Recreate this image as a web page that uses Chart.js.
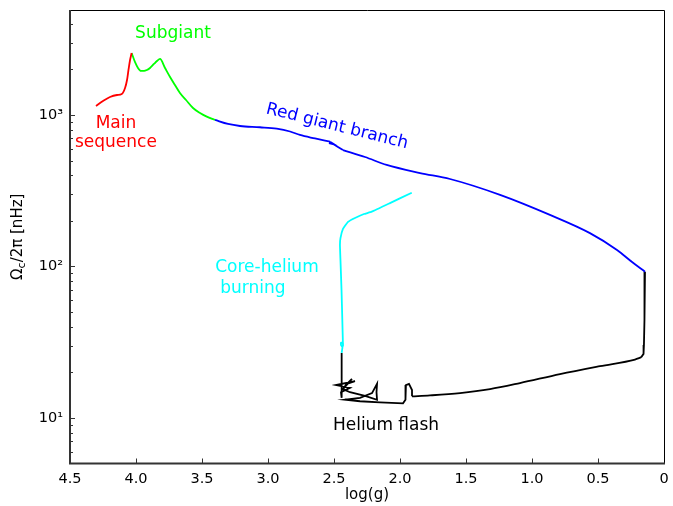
<!DOCTYPE html>
<html>
<head>
<meta charset="utf-8">
<script src="https://cdn.jsdelivr.net/npm/chart.js@4.4.0/dist/chart.umd.min.js"></script>
<style>
    body { margin: 0; background: #fff; }
    #wrap { width: 673px; height: 506px; }
</style>
</head>
<body>
<div id="wrap"><canvas id="rotationChart" width="673" height="506"></canvas></div>
<script>
// Core rotation rate vs log(g) along the evolution track
const msLogg = [4.303, 4.250, 4.197, 4.144, 4.108, 4.083, 4.068, 4.057, 4.045, 4.033];
const msOmega = [1147, 1237, 1315, 1355, 1376, 1508, 1702, 1982, 2307, 2566];

const sgLogg = [4.033, 4.008, 3.985, 3.962, 3.939, 3.917, 3.894, 3.864, 3.841, 3.818, 3.780, 3.742, 3.705, 3.667, 3.621, 3.568, 3.515, 3.464, 3.402];
const sgOmega = [2566, 2238, 2043, 1952, 1952, 1982, 2043, 2171, 2272, 2343, 2043, 1781, 1578, 1397, 1256, 1112, 1031, 975, 927];

// red giant branch: before the small hook, the hook itself, and after it
const rgbLoggA = [3.402, 3.303, 3.212, 3.061, 2.934, 2.833, 2.758, 2.644, 2.530];
const rgbOmegaA = [927, 872, 846, 830, 812, 778, 738, 700, 666];
const hookLogg = [2.530, 2.508, 2.538, 2.500, 2.470, 2.432];
const hookOmega = [666, 648, 653, 639, 615, 587];
const rgbLoggB = [2.432, 2.265, 2.101, 1.848, 1.621, 1.242, 0.864, 0.561, 0.356, 0.242, 0.144];
const rgbOmegaB = [587, 528, 468, 414, 378, 297, 219, 166, 128.5, 107, 92.4];

// helium flash: drop at the tip, the long return, then the sub-flash loops
const tipLogg = [0.144, 0.148, 0.148, 0.152, 0.155, 0.174];
const tipOmega = [92.4, 70.0, 44.4, 30.3, 26.5, 25.1];
const returnLogg = [0.174, 0.220, 0.485, 0.788, 1.091, 1.318, 1.545, 1.773, 1.909];
const returnOmega = [25.1, 24.3, 22.0, 19.5, 17.0, 15.5, 14.6, 14.1, 13.9];
const loopLogg = [1.909, 1.909, 1.932, 1.955, 1.962, 1.955, 1.977, 2.152, 2.303, 2.417,
    2.303, 2.212, 2.174, 2.178, 2.174, 2.265, 2.379, 2.432,
    2.364, 2.402, 2.341, 2.485, 2.379, 2.447, 2.442, 2.442, 2.442, 2.442];
const loopOmega = [13.9, 15.3, 16.8, 16.5, 14.8, 13.2, 12.5, 12.7, 12.9, 13.2,
    13.6, 14.6, 16.8, 14.8, 13.2, 14.0, 14.8, 15.5,
    18.1, 16.8, 17.5, 16.5, 15.8, 14.8, 13.6, 17.8, 22.4, 26.9];

const heLogg = [2.442, 2.436, 2.447, 2.447, 2.432, 2.432, 2.437, 2.443, 2.451, 2.455, 2.451, 2.432, 2.394, 2.341, 2.273, 2.214, 2.076, 1.911];
const heOmega = [26.9, 29.4, 30.3, 31.5, 31.3, 29.9, 44.4, 70.0, 110, 139, 154, 177, 197, 209, 222, 230, 262, 307];

const xTicks = [0, 0.5, 1, 1.5, 2, 2.5, 3, 3.5, 4, 4.5];
const yMajor = [10, 100, 1000];
const yMinor = [6, 7, 8, 9, 20, 30, 40, 50, 60, 70, 80, 90, 200, 300, 400, 500, 600, 700, 800, 900, 2000, 3000, 4000];

// text labels: [text, logg, omega, colour, rotation deg]
const notes = [
    ['Subgiant', 3.72, 3425, '#00ff00', 0],
    ['Main', 4.152, 872, '#ff0000', 0],
    ['sequence', 4.152, 653, '#ff0000', 0],
    ['Red giant branch', 2.477, 840, '#0000ff', 14],
    ['Core-helium', 3.008, 97.7, '#00ffff', 0],
    ['burning', 3.114, 71.0, '#00ffff', 0],
    ['Helium flash', 2.106, 8.85, '#000000', 0]
];

const FONT = "'DejaVu Sans', sans-serif";
Chart.defaults.font.family = FONT;
Chart.defaults.color = '#000';

function pts(xs, ys) {
    return xs.map((x, i) => ({ x: x, y: ys[i] }));
}

function track(label, xs, ys, colour, smooth) {
    const ds = {
        label: label,
        data: pts(xs, ys),
        showLine: true,
        borderColor: colour,
        backgroundColor: colour,
        borderWidth: 1.8,
        pointRadius: 0,
        tension: 0
    };
    if (smooth === 'mono') {
        ds.cubicInterpolationMode = 'monotone';
        ds.tension = 0.4;
    } else if (smooth) {
        ds.tension = smooth;
    }
    return ds;
}

const decor = {
    id: 'decor',
    afterDraw(chart) {
        const c = chart.ctx;
        const a = chart.chartArea;
        const xs = chart.scales.x;
        const ys = chart.scales.y;
        c.save();

        // inward ticks
        c.strokeStyle = '#333';
        c.lineWidth = 1;
        c.beginPath();
        xTicks.forEach(v => {
            const px = Math.round(xs.getPixelForValue(v)) + 0.5;
            c.moveTo(px, a.bottom);
            c.lineTo(px, a.bottom - 5);
        });
        yMajor.forEach(v => {
            const py = Math.round(ys.getPixelForValue(v)) + 0.5;
            c.moveTo(a.left, py);
            c.lineTo(a.left + 5, py);
        });
        yMinor.forEach(v => {
            const py = Math.round(ys.getPixelForValue(v)) + 0.5;
            c.moveTo(a.left, py);
            c.lineTo(a.left + 3, py);
        });
        c.stroke();

        // frame: top/right thin black, left/bottom heavier grey
        c.strokeStyle = '#000';
        c.lineWidth = 1;
        c.beginPath();
        c.moveTo(a.left, a.top + 0.5);
        c.lineTo(a.right + 0.5, a.top + 0.5);
        c.lineTo(a.right + 0.5, a.bottom);
        c.stroke();
        c.strokeStyle = '#333';
        c.lineWidth = 2;
        c.beginPath();
        c.moveTo(a.left, a.top);
        c.lineTo(a.left, a.bottom);
        c.lineTo(a.right + 1, a.bottom);
        c.stroke();

        // annotations
        c.font = '17px ' + FONT;
        c.textAlign = 'center';
        c.textBaseline = 'middle';
        notes.forEach(n => {
            c.save();
            c.translate(xs.getPixelForValue(n[1]), ys.getPixelForValue(n[2]));
            c.rotate(n[4] * Math.PI / 180);
            c.fillStyle = n[3];
            c.fillText(n[0], 0, 0);
            c.restore();
        });

        // axis titles
        c.fillStyle = '#000';
        c.font = '15px ' + FONT;
        c.fillText('log(g)', (a.left + a.right) / 2, 495);

        c.save();
        c.translate(18, (a.top + a.bottom) / 2);
        c.rotate(-Math.PI / 2);
        const p1 = 'Ω', p2 = 'c', p3 = '/2π [nHz]';
        c.font = '15px ' + FONT;
        const w1 = c.measureText(p1).width;
        const w3 = c.measureText(p3).width;
        c.font = '11px ' + FONT;
        const w2 = c.measureText(p2).width;
        let x0 = -(w1 + w2 + w3) / 2;
        c.textAlign = 'left';
        c.font = '15px ' + FONT;
        c.fillText(p1, x0, 0);
        c.font = '11px ' + FONT;
        c.fillText(p2, x0 + w1, 4);
        c.font = '15px ' + FONT;
        c.fillText(p3, x0 + w1 + w2, 0);
        c.restore();

        c.restore();
    }
};

const sup = { 1: '¹', 2: '²', 3: '³' };

new Chart(document.getElementById('rotationChart').getContext('2d'), {
    type: 'scatter',
    data: {
        datasets: [
            track('Main sequence', msLogg, msOmega, '#ff0000', 'mono'),
            track('Subgiant', sgLogg, sgOmega, '#00ff00', 'mono'),
            track('Red giant branch', rgbLoggA, rgbOmegaA, '#0000ff', 'mono'),
            track('Red giant branch hook', hookLogg, hookOmega, '#0000ff', 0),
            track('Red giant branch', rgbLoggB, rgbOmegaB, '#0000ff', 'mono'),
            track('Core-helium burning', heLogg, heOmega, '#00ffff', 0.1),
            track('Helium flash tip', tipLogg, tipOmega, '#000000', 0),
            track('Helium flash return', returnLogg, returnOmega, '#000000', 'mono'),
            track('Helium flash loops', loopLogg, loopOmega, '#000000', 0)
        ]
    },
    options: {
        responsive: false,
        animation: false,
        devicePixelRatio: 1,
        layout: { padding: { top: 10, right: 9, left: 0, bottom: 0 } },
        plugins: {
            legend: { display: false },
            tooltip: { enabled: false }
        },
        scales: {
            x: {
                type: 'linear',
                reverse: true,
                min: 0,
                max: 4.5,
                grid: { display: false, drawTicks: false },
                border: { display: false },
                afterFit: s => { s.height = 42.5; },
                afterBuildTicks: s => { s.ticks = xTicks.map(v => ({ value: v })); },
                ticks: {
                    padding: 7,
                    autoSkip: false,
                    maxRotation: 0,
                    color: '#000',
                    font: { size: 14.5 }
                }
            },
            y: {
                type: 'logarithmic',
                min: 5.01,
                max: 4930,
                grid: { display: false, drawTicks: false },
                border: { display: false },
                afterFit: s => { s.width = 70; s.paddingTop = 0; s.paddingBottom = 0; },
                afterBuildTicks: s => { s.ticks = yMajor.map(v => ({ value: v })); },
                ticks: {
                    padding: 7,
                    autoSkip: false,
                    color: '#000',
                    font: { size: 14.5 },
                    callback: v => '10' + sup[Math.round(Math.log10(v))]
                }
            }
        }
    },
    plugins: [decor]
});
</script>
</body>
</html>
